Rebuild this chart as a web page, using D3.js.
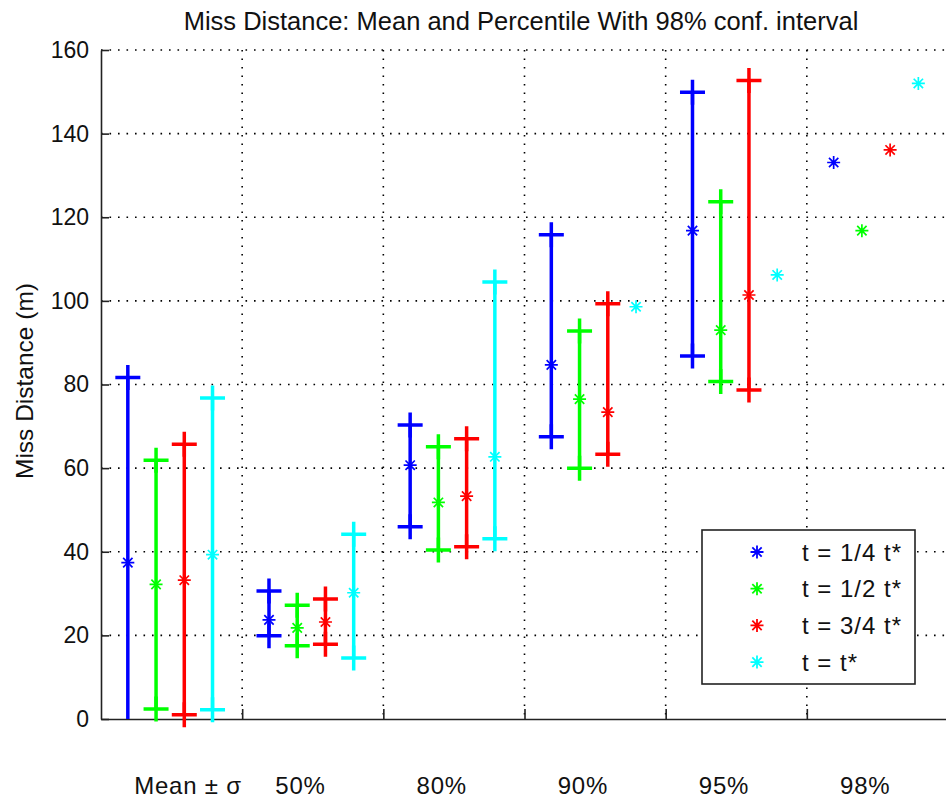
<!DOCTYPE html>
<html>
<head>
<meta charset="utf-8">
<script src="https://cdn.jsdelivr.net/npm/d3@7"></script>
<style>
  body { margin: 0; background: #fff; }
  svg { display: block; font-family: "Liberation Sans", Arial, sans-serif; }
</style>
</head>
<body>
<svg id="chart"></svg>
<script>
// Groups along x and the four series
const groups = ["Mean \u00b1 \u03c3", "50%", "80%", "90%", "95%", "98%"];
const series = ["t = 1/4 t*", "t = 1/2 t*", "t = 3/4 t*", "t = t*"];
const colors = ["#0000ff", "#00ff00", "#ff0000", "#00ffff"];

// Mean / percentile value per series (rows) and group (columns)
const meanVals = [
  [37.4, 23.7, 60.7, 84.7, 116.8, 133.1],
  [32.2, 21.8, 51.8, 76.5, 93.0, 116.8],
  [33.2, 23.2, 53.3, 73.4, 101.4, 136.1],
  [39.3, 30.2, 62.7, 98.6, 106.2, 152.0]
];
// Lower and upper ends of the interval (null = no interval drawn)
const lowerVals = [
  [-6.9, 19.9, 46.0, 67.5, 86.8, null],
  [2.4, 17.5, 40.4, 60.0, 80.7, null],
  [1.0, 17.9, 41.2, 63.3, 78.7, null],
  [2.2, 14.6, 43.1, null, null, null]
];
const upperVals = [
  [81.7, 30.6, 70.3, 115.8, 149.9, null],
  [61.9, 27.2, 65.1, 92.8, 123.7, null],
  [65.7, 28.7, 67.0, 99.3, 152.7, null],
  [76.8, 44.2, 104.5, null, null, null]
];
const yTicks = [0, 20, 40, 60, 80, 100, 120, 140, 160];

const W = 946, H = 799;
const margin = { top: 50, left: 101 };
const plotW = 847, plotH = 669;

const svg = d3.select("#chart").attr("width", W).attr("height", H);

const x = d3.scaleLinear().domain([0, 6]).range([0, plotW]);
const y = d3.scaleLinear().domain([0, 160]).range([plotH, 0]);

const g = svg.append("g").attr("transform", `translate(${margin.left},${margin.top})`);

svg.append("defs").append("clipPath").attr("id", "plotclip")
  .append("rect").attr("x", 0).attr("y", 0).attr("width", plotW).attr("height", plotH);

// dotted grid
const grid = g.append("g").attr("stroke", "#000").attr("stroke-width", 1.6)
  .attr("stroke-dasharray", "1.6,6.9");
grid.selectAll(".hg").data(yTicks.filter(d => d > 0)).enter().append("line")
  .attr("x1", 0).attr("x2", plotW)
  .attr("y1", d => y(d)).attr("y2", d => y(d));
grid.selectAll(".vg").data(d3.range(1, 7)).enter().append("line")
  .attr("x1", d => x(d)).attr("x2", d => x(d))
  .attr("y1", 0).attr("y2", plotH);

// axes
const yAxis = g.append("g")
  .call(d3.axisLeft(y).tickValues(yTicks).tickSizeInner(-8).tickSizeOuter(0).tickPadding(12));
const xAxis = g.append("g").attr("transform", `translate(0,${plotH})`)
  .call(d3.axisBottom(x).tickValues(d3.range(1, 7)).tickSizeInner(-10).tickSizeOuter(0).tickFormat(""));
[yAxis, xAxis].forEach(a => {
  a.selectAll("path, line").attr("stroke", "#222").attr("stroke-width", 1.6);
  a.selectAll("text").attr("fill", "#111").style("font-size", "23px").attr("font-family", null);
});

// markers
const plusPath = (cx, cy, s) => `M${cx - s},${cy}H${cx + s}M${cx},${cy - s}V${cy + s}`;
const starPath = (cx, cy, s) => {
  const d = s * 0.72;
  return `M${cx - s},${cy}H${cx + s}M${cx},${cy - s}V${cy + s}` +
    `M${cx - d},${cy - d}L${cx + d},${cy + d}M${cx - d},${cy + d}L${cx + d},${cy - d}`;
};
const inside = v => v >= 0 && v <= 160;

series.forEach((name, si) => {
  const sg = g.append("g");
  groups.forEach((grp, gi) => {
    const cx = x(gi + 0.19 + 0.2 * si);
    const lo = lowerVals[si][gi], hi = upperVals[si][gi];
    if (lo !== null && hi !== null) {
      sg.append("line").attr("clip-path", "url(#plotclip)")
        .attr("x1", cx).attr("x2", cx).attr("y1", y(lo)).attr("y2", y(hi))
        .attr("stroke", colors[si]).attr("stroke-width", 3.5);
      [lo, hi].filter(inside).forEach(v => {
        sg.append("path").attr("d", plusPath(cx, y(v), 12.5))
          .attr("stroke", colors[si]).attr("stroke-width", 3.5).attr("fill", "none");
      });
    }
    sg.append("path").attr("d", starPath(cx, y(meanVals[si][gi]), 6.5))
      .attr("stroke", colors[si]).attr("stroke-width", 1.7).attr("fill", "none");
  });
});

// group labels
g.selectAll(".glabel").data(groups).enter().append("text")
  .attr("x", (d, i) => x(i + 0.235)).attr("y", plotH + 75)
  .style("font-size", "24px").style("letter-spacing", "0.8px").attr("fill", "#111")
  .text(d => d);

// title and y label
svg.append("text").attr("x", 521).attr("y", 30).attr("text-anchor", "middle")
  .style("font-size", "25.5px").attr("fill", "#111")
  .text("Miss Distance: Mean and Percentile With 98% conf. interval");
svg.append("text").attr("transform", "translate(33,381) rotate(-90)")
  .attr("text-anchor", "middle").style("font-size", "24.5px").attr("fill", "#111")
  .text("Miss Distance (m)");

// legend
const lg = svg.append("g").attr("transform", "translate(702,530)");
lg.append("rect").attr("width", 213).attr("height", 154)
  .attr("fill", "#fff").attr("stroke", "#222").attr("stroke-width", 1.6);
series.forEach((name, si) => {
  const ly = 22 + si * 36.7;
  lg.append("path").attr("d", starPath(55, ly, 6.5))
    .attr("stroke", colors[si]).attr("stroke-width", 1.8).attr("fill", "none");
  lg.append("text").attr("x", 100).attr("y", ly + 8.5)
    .style("font-size", "24px").style("letter-spacing", "1px").attr("fill", "#111").text(name);
});
</script>
</body>
</html>
